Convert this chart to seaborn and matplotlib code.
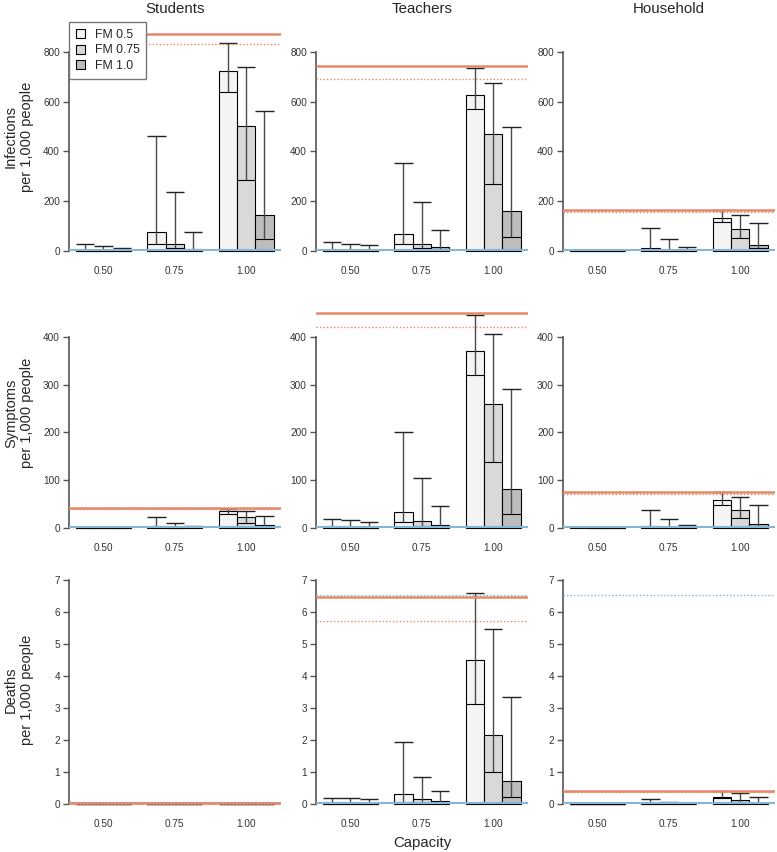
import numpy as np
import pandas as pd
import matplotlib
matplotlib.use('Agg')
import matplotlib.pyplot as plt
import seaborn as sns
from matplotlib.patches import Patch

groups = ['Students', 'Teachers', 'Household']
capacities = ['0.50', '0.75', '1.00']
fm_levels = ['FM 0.5', 'FM 0.75', 'FM 1.0']
fm_colors = ['#f4f4f4', '#d9d9d9', '#bdbdbd']

# values are [group][fm][capacity]
inf_mean = [
    [[5, 75, 722], [4, 27, 504], [3, 9, 146]],
    [[5, 68, 625], [4, 28, 470], [3, 15, 159]],
    [[5, 13, 132], [3, 4, 88], [2, 3, 25]],
]
inf_median = [
    [[2, 29, 639], [1, 11, 284], [1, 5, 48]],
    [[2, 28, 569], [1, 12, 270], [1, 7, 57]],
    [[1, 5, 116], [1, 2, 51], [0, 1, 12]],
]
inf_upper = [
    [[29, 461, 837], [20, 239, 738], [13, 76, 561]],
    [[36, 352, 737], [29, 196, 677], [23, 84, 497]],
    [[6, 91, 163], [4, 48, 146], [3, 16, 113]],
]

sym_mean = [
    [[1, 3, 35], [1, 1.5, 22], [1, 2.5, 6]],
    [[3, 34, 371], [2, 15, 259], [1.5, 7, 82]],
    [[2, 5, 58], [1, 2, 37], [1, 2, 9]],
]
sym_median = [
    [[0.5, 1.5, 29], [0.5, 0.5, 11], [0.5, 1, 3]],
    [[1, 13, 320], [1, 5, 139], [0.5, 3, 29]],
    [[1, 2, 49], [0.5, 1, 20], [0.5, 1, 5]],
]
sym_upper = [
    [[2, 22, 40], [1.5, 10, 36], [1, 3, 26]],
    [[19.5, 200, 447], [16, 104, 406], [13, 45, 291]],
    [[2, 38, 75], [1, 19, 65], [1, 6, 48]],
]

dth_mean = [
    [[0.004, 0.004, 0.004], [0.004, 0.004, 0.004], [0.004, 0.004, 0.004]],
    [[0.05, 0.30, 4.50], [0.03, 0.17, 2.16], [0.02, 0.09, 0.73]],
    [[0.005, 0.03, 0.23], [0.004, 0.02, 0.12], [0.003, 0.01, 0.04]],
]
dth_median = [
    [[0.002, 0.002, 0.002], [0.002, 0.002, 0.002], [0.002, 0.002, 0.002]],
    [[0.01, 0.06, 3.13], [0.01, 0.04, 1.00], [0.005, 0.02, 0.22]],
    [[0.002, 0.01, 0.18], [0.002, 0.005, 0.06], [0.001, 0.005, 0.02]],
]
dth_upper = [
    [[0.006, 0.006, 0.006], [0.006, 0.006, 0.006], [0.006, 0.006, 0.006]],
    [[0.19, 1.93, 6.60], [0.19, 0.86, 5.48], [0.15, 0.42, 3.34]],
    [[0.01, 0.15, 0.40], [0.01, 0.06, 0.33], [0.01, 0.03, 0.21]],
]

# reference lines per group
inf_solid = [870, 744, 163]
inf_dotted = [833, 692, 156]
inf_base = [3, 3, 3]
sym_solid = [42.5, 451, 75]
sym_dotted = [40, 421, 72]
sym_base = [1.5, 1.5, 1.5]
dth_solid = [0.02, 6.48, 0.42]
dth_dotted = [0.01, 5.71, 0.37]
dth_base = [0.02, 0.03, 0.02]
dth_base_dotted = [np.nan, 6.53, 6.53]

row_labels = ['Infections\nper 1,000 people', 'Symptoms\nper 1,000 people', 'Deaths\nper 1,000 people']
row_ticks = [np.arange(0, 801, 200), np.arange(0, 401, 100), np.arange(0, 8, 1)]
row_ylim = [(-36, 904), (-19, 469), (-0.28, 7.28)]

sns.set_style('ticks')
plt.rcParams['font.family'] = ['Liberation Sans', 'DejaVu Sans']

W, H = 777, 852
fig = plt.figure(figsize=(W / 100, H / 100), dpi=100)

col_left = [69, 316, 563]
col_w = 212
row_top = [26, 304, 571]
row_bot = [260, 537, 813]
label_y = [137, 413, 690]

orange = '#e5896b'
blue = '#86b6d6'

rows = [
    (inf_mean, inf_median, inf_upper, inf_solid, inf_dotted, inf_base, None),
    (sym_mean, sym_median, sym_upper, sym_solid, sym_dotted, sym_base, None),
    (dth_mean, dth_median, dth_upper, dth_solid, dth_dotted, dth_base, dth_base_dotted),
]

for r, (mean, median, upper, solid, dotted, base, base_dot) in enumerate(rows):
    for g, grp in enumerate(groups):
        ax = fig.add_axes([col_left[g] / W, 1 - row_bot[r] / H, col_w / W,
                           (row_bot[r] - row_top[r]) / H])
        df = pd.DataFrame({
            'capacity': np.tile(capacities, 3),
            'fm': np.repeat(fm_levels, 3),
            'value': np.ravel(mean[g]),
        })
        sns.barplot(data=df, x='capacity', y='value', hue='fm', order=capacities,
                    hue_order=fm_levels, palette=fm_colors, saturation=1, width=0.77,
                    edgecolor='black', linewidth=0.8, errorbar=None, legend=False, ax=ax)
        for k, cont in enumerate(ax.containers):
            for j, bar in enumerate(cont):
                x0 = bar.get_x()
                w = bar.get_width()
                xc = x0 + w / 2
                med = median[g][k][j]
                up = upper[g][k][j]
                ax.vlines(xc, med, up, color='#4a4a4a', lw=1.0, zorder=3)
                ax.hlines(up, x0, x0 + w, color='#222222', lw=1.0, zorder=3)
                ax.hlines(med, x0, x0 + w, color='black', lw=0.8, zorder=3)

        ax.axhline(base[g], color=blue, lw=1.5, zorder=4)
        if base_dot is not None and not np.isnan(base_dot[g]):
            ax.axhline(base_dot[g], color=blue, lw=1.0, ls=(0, (1, 1.5)), zorder=4)
        ax.axhline(solid[g], color=orange, lw=1.8, zorder=5)
        ax.axhline(dotted[g], color=orange, lw=1.0, ls=(0, (1, 1.5)), zorder=5)

        ax.set_xlim(-0.483, 2.49)
        ax.set_ylim(*row_ylim[r])
        ax.set_yticks(row_ticks[r])
        ax.set_yticklabels([str(t) for t in row_ticks[r]])
        ax.set_xlabel('')
        ax.set_ylabel('')
        for s in ['top', 'right', 'bottom']:
            ax.spines[s].set_visible(False)
        ax.spines['left'].set_bounds(row_ticks[r][0], row_ticks[r][-1])
        ax.spines['left'].set_color('#555555')
        ax.spines['left'].set_linewidth(1.2)
        ax.tick_params(axis='y', length=4.5, width=1.0, color='#555555',
                       labelsize=7.2, labelcolor='#333333', pad=2)
        ax.tick_params(axis='x', length=0, labelsize=7.2, labelcolor='#333333', pad=4)
        ax.set_facecolor('none')

        if r == 0:
            fig.text((col_left[g] + col_w / 2) / W, 1 - 9 / H, grp, ha='center',
                     va='center', fontsize=10.8)
    fig.text(19 / W, 1 - label_y[r] / H, row_labels[r], rotation=90, ha='center',
             va='center', fontsize=10.5, linespacing=1.2, multialignment='center')

fig.text((col_left[1] + col_w / 2) / W, 1 - 843 / H, 'Capacity', ha='center',
         va='center', fontsize=10.8)

handles = [Patch(facecolor=c, edgecolor='black', lw=0.8, label=l)
           for c, l in zip(fm_colors, fm_levels)]
leg = fig.legend(handles=handles, loc='upper left', bbox_to_anchor=(69 / W, 1 - 22 / H),
                 frameon=True, fancybox=False, edgecolor='#777777', framealpha=1,
                 fontsize=8.8, handlelength=0.75, handleheight=0.75, borderpad=0.55,
                 labelspacing=0.3, handletextpad=0.8, borderaxespad=0)
leg.get_frame().set_linewidth(1.0)
leg.set_zorder(10)

fig.savefig('out.png', dpi=100)
